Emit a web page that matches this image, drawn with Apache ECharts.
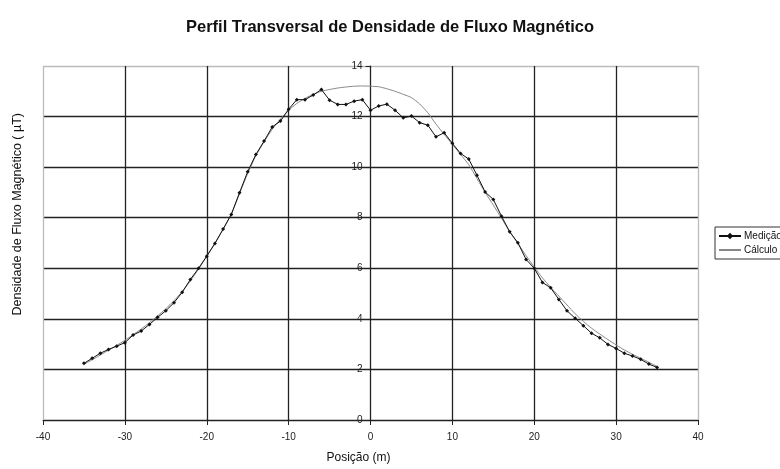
<!DOCTYPE html>
<html>
<head>
<meta charset="utf-8">
<script src="https://cdn.jsdelivr.net/npm/echarts@6/dist/echarts.min.js"></script>
<style>
  html, body { margin: 0; padding: 0; background: #fff; }
  #main { width: 780px; height: 469px; }
</style>
</head>
<body>
<div id="main"></div>
<script>
// posições (m), medição a cada 1 m
var posicoes = [-35,-34,-33,-32,-31,-30,-29,-28,-27,-26,-25,-24,-23,-22,-21,-20,-19,-18,-17,-16,-15,-14,-13,-12,-11,-10,-9,-8,-7,-6,-5,-4,-3,-2,-1,0,1,2,3,4,5,6,7,8,9,10,11,12,13,14,15,16,17,18,19,20,21,22,23,24,25,26,27,28,29,30,31,32,33,34,35];

var medicao = [2.24,2.44,2.64,2.79,2.92,3.06,3.36,3.52,3.78,4.06,4.32,4.64,5.05,5.56,6.0,6.48,6.98,7.55,8.13,8.99,9.82,10.5,11.03,11.59,11.82,12.29,12.67,12.67,12.85,13.07,12.65,12.48,12.48,12.61,12.67,12.25,12.42,12.49,12.25,11.95,12.02,11.76,11.66,11.2,11.36,10.94,10.54,10.32,9.68,9.02,8.72,8.06,7.44,7.01,6.35,6.0,5.44,5.23,4.77,4.32,4.02,3.73,3.43,3.25,2.99,2.83,2.64,2.53,2.4,2.21,2.08];

var calculo = [2.2,2.38,2.57,2.76,2.95,3.15,3.37,3.6,3.85,4.12,4.4,4.72,5.08,5.5,5.97,6.48,7.0,7.55,8.15,8.95,9.75,10.45,11.0,11.5,11.9,12.25,12.52,12.72,12.88,13.0,13.07,13.13,13.17,13.2,13.21,13.2,13.18,13.1,13.0,12.88,12.75,12.5,12.15,11.7,11.3,10.9,10.5,10.1,9.55,9.0,8.5,7.98,7.45,6.98,6.5,6.05,5.62,5.25,4.9,4.55,4.2,3.9,3.63,3.4,3.18,2.97,2.77,2.6,2.44,2.28,2.12];

var xTicks = [-40,-30,-20,-10,0,10,20,30,40];
var yTicks = [0,2,4,6,8,10,12,14];

function pares(xs, ys) {
    return xs.map(function (x, i) { return [x, ys[i]]; });
}

var fonte = 'Liberation Sans, Arial, sans-serif';
var chart = echarts.init(document.getElementById('main'));

var option = {
    backgroundColor: '#fff',
    animation: false,
    title: {
        text: 'Perfil Transversal de Densidade de Fluxo Magnético',
        left: 'center',
        top: 14,
        textStyle: { fontFamily: fonte, fontSize: 16.5, fontWeight: 'bold', color: '#111' }
    },
    grid: { left: 43, right: 82, top: 66, bottom: 49 },
    legend: {
        orient: 'vertical',
        left: 715,
        top: 227,
        padding: [4, 6, 4, 3],
        itemGap: 4,
        itemWidth: 22,
        itemHeight: 8,
        borderColor: '#333',
        borderWidth: 1,
        textStyle: { fontFamily: fonte, fontSize: 10, color: '#111', padding: [0, 0, 0, -2] },
        data: [
            { name: 'Medição' },
            { name: 'Cálculo', itemStyle: { color: 'transparent', borderWidth: 0 } }
        ]
    },
    xAxis: {
        type: 'value',
        min: xTicks[0],
        max: xTicks[xTicks.length - 1],
        interval: 10,
        name: 'Posição (m)',
        nameLocation: 'middle',
        nameGap: 32,
        nameTextStyle: { fontFamily: fonte, fontSize: 12, color: '#111', padding: [0, 24, 0, 0] },
        axisLine: { lineStyle: { color: '#222', width: 1 } },
        axisTick: { show: true, length: 5, lineStyle: { color: '#222' } },
        axisLabel: { fontFamily: fonte, fontSize: 10, color: '#222', margin: 12 },
        splitLine: {
            show: true,
            lineStyle: { color: ['#bbb','#222','#222','#222','#222','#222','#222','#222','#bbb'], width: 1.3 }
        }
    },
    yAxis: {
        type: 'value',
        min: yTicks[0],
        max: yTicks[yTicks.length - 1],
        interval: 2,
        position: 'left',
        offset: -327.5,
        axisLine: { show: true, onZero: false, lineStyle: { color: '#222', width: 1 } },
        axisTick: { show: true, length: 5, lineStyle: { color: '#222' } },
        axisLabel: { fontFamily: fonte, fontSize: 10, color: '#222', margin: 8 },
        splitLine: {
            show: true,
            lineStyle: { color: ['#222','#222','#222','#222','#222','#222','#222','#bbb'], width: 1.3 }
        }
    },
    graphic: [{
        type: 'text',
        left: 11,
        top: 113,
        rotation: Math.PI / 2,
        style: {
            text: 'Densidade de Fluxo Magnético ( µT)',
            font: '12.5px ' + fonte,
            fill: '#111'
        }
    }],
    series: [
        {
            name: 'Cálculo',
            type: 'line',
            data: pares(posicoes, calculo),
            symbol: 'none',
            smooth: 0.2,
            lineStyle: { color: '#888', width: 1 },
            itemStyle: { color: '#888' },
            z: 3
        },
        {
            name: 'Medição',
            type: 'line',
            data: pares(posicoes, medicao),
            symbol: 'diamond',
            symbolSize: 4,
            lineStyle: { color: '#111', width: 1 },
            itemStyle: { color: '#111' },
            z: 4
        }
    ]
};

chart.setOption(option);
</script>
</body>
</html>
